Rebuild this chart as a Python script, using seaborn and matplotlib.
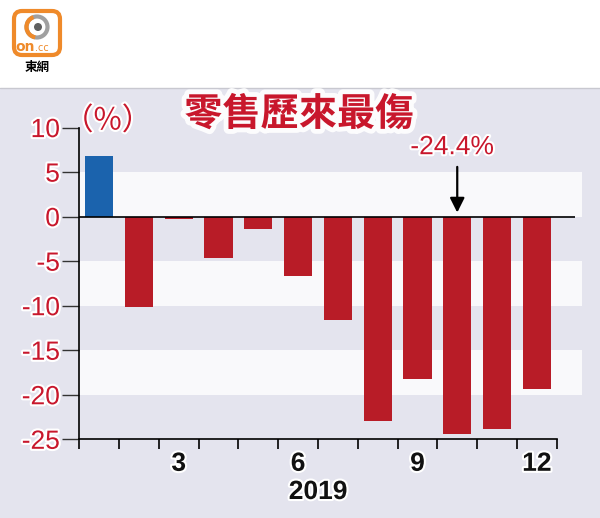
import numpy as np
import pandas as pd
import matplotlib
matplotlib.use('Agg')
import matplotlib.pyplot as plt
import seaborn as sns
import matplotlib.patheffects as pe
from matplotlib.patches import FancyBboxPatch, Rectangle, Circle, Arc
import matplotlib.transforms as mtrans

# ---- data ----
months = list(range(1, 13))
values = [6.8, -10.2, -0.3, -4.6, -1.4, -6.7, -11.6, -23.0, -18.2, -24.4, -23.8, -19.4]
yticks = [10, 5, 0, -5, -10, -15, -20, -25]
ytick_labels = ['10', '5', '0', '-5', '-10', '-15', '-20', '-25']
xlabel_months = [3, 6, 9, 12]
xtick_labels = ['3', '6', '9', '12']
year_label = '2019'
title = '零售歷來最傷'
unit = '（%）'
note = '-24.4%'
note_month = 10

RED = '#b81c27'
BLUE = '#1b63ad'
TXT_RED = '#c8172c'
BG = '#e4e4ee'

sns.set_theme(style='white')
plt.rcParams['font.family'] = ['Liberation Sans Narrow', 'Liberation Sans', 'DejaVu Sans']

W, H = 600, 518
fig = plt.figure(figsize=(6, 5.18), dpi=100)
fig.patch.set_facecolor('white')

# background / decoration layer in pixel coordinates
bg = fig.add_axes([0, 0, 1, 1], zorder=0)
bg.set_xlim(0, W)
bg.set_ylim(H, 0)
bg.axis('off')
bg.add_patch(Rectangle((0, 88), W, H - 88, facecolor=BG, edgecolor='none'))
bg.plot([0, W], [88, 88], color='#c8c8d0', lw=1)

# logo
bg.add_patch(FancyBboxPatch((14, 11), 46, 44, boxstyle='round,pad=0,rounding_size=8',
                            facecolor='white', edgecolor='#ef8a2a', lw=3))
bg.add_patch(Circle((37, 27), 10.5, fill=False, edgecolor='#a0a0a0', lw=3))
bg.add_patch(Arc((37, 27), 21, 21, theta1=100, theta2=250, edgecolor='#ef8a2a', lw=3))
bg.add_patch(Circle((38, 27), 4, facecolor='#606060', edgecolor='none'))
bg.text(35, 47, 'on', color='#ef8a2a', fontsize=10, fontweight='bold', ha='right', va='center',
        family=['DejaVu Sans'])
bg.text(35, 48, '.cc', color='#ef8a2a', fontsize=7, ha='left', va='center', family=['DejaVu Sans'])
bg.text(37, 68, '東網', color='black', fontsize=9, fontweight='bold', ha='center', va='center',
        family=['Noto Sans CJK TC', 'DejaVu Sans'])

# main axes
x0, x1 = 79.3, 575
y_top, y_bot = 127.6, 439.3
ax = fig.add_axes([x0 / W, (H - y_bot) / H, (x1 - x0) / W, (y_bot - y_top) / H], zorder=1)
ax.patch.set_alpha(0)

# white bands
trans = mtrans.blended_transform_factory(ax.transAxes, ax.transData)
for lo, hi in [(0, 5), (-10, -5), (-20, -15)]:
    ax.add_patch(Rectangle((0, lo), 1.015, hi - lo, transform=trans, facecolor='#f9f9fb',
                           edgecolor='none', zorder=0, clip_on=False))

df = pd.DataFrame({'month': [str(m) for m in months], 'value': values})
palette = {str(m): (BLUE if v > 0 else RED) for m, v in zip(months, values)}
sns.barplot(data=df, x='month', y='value', hue='month', palette=palette, order=df['month'],
            width=0.71, saturation=1, legend=False, ax=ax, zorder=2, edgecolor='none')

ax.set_xlim(-0.5, 11.96)
ax.set_ylim(-25, 10)
ax.set_xlabel('')
ax.set_ylabel('')
for s in ['top', 'right']:
    ax.spines[s].set_visible(False)
ax.spines['left'].set_color('black')
ax.spines['left'].set_linewidth(1.2)
ax.spines['bottom'].set_color('black')
ax.spines['bottom'].set_linewidth(1.2)
ax.spines['bottom'].set_bounds(-0.5, 11.5)
ax.axhline(0, color='black', lw=1.2, zorder=3)

# x ticks: boundaries major, labels minor
ax.set_xticks(np.arange(-0.5, 12, 1))
ax.set_xticklabels([''] * 13)
ax.tick_params(axis='x', which='major', direction='out', length=7, width=1.2, color='black', bottom=True)
ax.set_xticks([m - 1 for m in xlabel_months], minor=True)
ax.set_xticklabels(xtick_labels, minor=True, fontsize=19, fontweight='bold', color='#111111')
ax.tick_params(axis='x', which='minor', length=0, pad=9, bottom=True)

ax.set_yticks(yticks)
ax.set_yticklabels(ytick_labels, fontsize=19, color=TXT_RED)
ax.tick_params(axis='y', which='major', direction='out', length=12, width=1, color='#333333', pad=2, left=True)
for lab in ax.get_yticklabels() + ax.get_xticklabels(minor=True):
    lab.set_path_effects([pe.withStroke(linewidth=3, foreground='white')])

# arrow + note
ax.annotate('', xy=(note_month - 1, 0.15), xytext=(note_month - 1, 5.9),
            arrowprops=dict(arrowstyle='-|>', color='black', lw=1.6, mutation_scale=22), zorder=4)
ax.text(note_month - 1 - 0.13, 7.8, note, color=TXT_RED, fontsize=19, ha='center', va='center',
        path_effects=[pe.withStroke(linewidth=3, foreground='white')])

# title and unit
fig.text(299 / W, 1 - 114 / H, title, color=TXT_RED, fontsize=27.5, fontweight='bold',
         ha='center', va='center', family=['Noto Sans CJK TC', 'DejaVu Sans'],
         path_effects=[pe.withStroke(linewidth=7, foreground='white', alpha=0.9)])
fig.text(63 / W, 1 - 121 / H, unit, color=TXT_RED, fontsize=22, ha='left', va='center',
         family=['Noto Sans CJK TC', 'DejaVu Sans'],
         path_effects=[pe.withStroke(linewidth=3, foreground='white')])
fig.text(318 / W, 1 - 492 / H, year_label, color='#111111', fontsize=19, fontweight='bold',
         ha='center', va='center',
         path_effects=[pe.withStroke(linewidth=3, foreground='white')])

fig.savefig('out.png', dpi=100)
